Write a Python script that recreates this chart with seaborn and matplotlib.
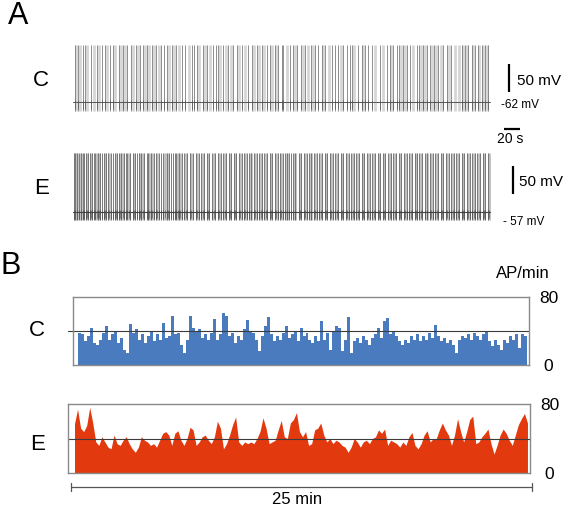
import numpy as np
import pandas as pd
import matplotlib
matplotlib.use("Agg")
import matplotlib.pyplot as plt
import seaborn as sns

sns.set_theme(style="white")
plt.rcParams['font.family'] = ['Liberation Sans', 'DejaVu Sans']
plt.rcParams['text.color'] = 'black'
plt.rcParams['ytick.color'] = 'black'
plt.rcParams['ytick.labelcolor'] = 'black'

# ---------------- data ----------------
# Panel A: spike times (s)
C_dark = [2.5, 6.6, 12.1, 15, 22.1, 29.6, 35.9, 40, 46.3, 49.6, 57.9, 62.9, 67.9, 72.1, 78.8,
          83.8, 87.1, 92.9, 98.4, 103.8, 109.6, 114.1, 117.1, 123.4, 128.8, 135.9, 140, 148.4,
          151.3, 154.6, 162.9, 167.9, 175.4, 178.8, 181.6, 187.9, 194.1, 200.4, 204.6, 210.9,
          219.1, 223.4, 229.6, 235.9, 242.1, 246.3, 252.5, 256.6, 260.9, 262.9, 271.3, 275.4,
          280.4, 284.6, 290, 297.1, 302.5, 306.6, 310.9, 315, 323.4, 327.5, 331.6, 337.9, 342.1,
          346.3, 348.4, 356.6, 360.9, 365, 369.1, 373.4, 383.8, 392.1, 396.3, 400.4, 404.6,
          407.9, 412.9, 417.1, 421.3, 429.6, 432.9, 437.1, 442.1, 446.3, 451.3, 456.6, 462.9,
          467.1, 472.1, 485.9, 490, 494.1, 498.4, 502.5, 506.6, 510.9, 515, 519.1]
C_faint = [4, 9, 18, 26, 33, 43, 53, 60, 65, 75, 81, 90, 95, 101, 107, 120, 126, 132, 145, 158,
           165, 171, 184, 191, 197, 207, 215, 226, 232, 239, 249, 254, 268, 278, 287, 294, 300,
           313, 320, 335, 351, 363, 378, 388, 398, 410, 415, 425, 435, 440, 449, 454, 460, 470,
           477, 482, 488, 492, 500, 508, 513, 517]
E_dark = [1, 3, 4.5, 7, 9.5, 12, 13.5, 16, 19, 21, 24, 26.5, 28, 31, 34, 36, 38.5, 41, 44, 47,
          49.5, 52, 55, 57, 60, 63.5, 66, 68, 71, 74.5, 77, 80, 82, 85.5, 89, 92, 94, 97, 101,
          104, 107.5, 110, 113, 117, 120, 122.5, 125, 127, 129, 132, 136, 139, 143, 146, 150,
          153.5, 157, 160, 164, 167, 170.5, 174, 178, 181, 185, 188, 191, 194.5, 198, 201, 204,
          207.5, 211, 214, 217.5, 220, 223, 226.5, 230, 233, 236, 239, 242.5, 246, 249, 252.5,
          256, 259, 262, 265.5, 268, 270, 272.5, 275, 278, 282, 285, 288.5, 292, 295, 298,
          301.5, 305, 308, 311.5, 315, 318, 321.5, 325, 328, 331, 334.5, 338, 341, 344.5, 348,
          351, 354, 357.5, 361, 364, 367.5, 371, 374, 377.5, 381, 384, 387, 390.5, 394, 397,
          400.5, 404, 407, 410, 413.5, 417, 420, 423.5, 427, 430, 433, 436.5, 440, 443, 446.5,
          450, 453, 456, 459.5, 463, 466, 469.5, 473, 476, 479, 482.5, 486, 489, 492.5, 496,
          499, 502, 505.5, 509, 512, 515.5, 519]
E_faint = [2, 5.5, 10.5, 17.5, 22.5, 29.5, 32.5, 39.5, 45.5, 53.5, 58.5, 62, 69.5, 76, 83.5, 87,
           95.5, 99, 105.5, 115, 118.5, 131, 134, 141, 148, 155, 162, 168.5, 176, 183, 189.5,
           196, 203, 209, 215.5, 222, 228, 234.5, 241, 247.5, 254, 260.5, 267, 277, 283.5, 290,
           297, 303, 310, 316.5, 323, 330, 336, 343, 350, 356, 363, 369, 376, 383, 389, 396, 402,
           409, 415, 422, 429, 435, 442, 448, 455, 461, 468, 475, 481, 488, 494, 501, 507, 514,
           520]
trace_end = 521          # s
C_rest, C_peak, C_trough = -62, 40, -78      # mV
E_rest, E_peak, E_trough = -57, 48, -71      # mV

# Panel B: firing rate (AP/min) in 150 consecutive bins over 25 min
C_rate = [38, 36, 28, 34, 44, 26, 24, 30, 38, 46, 30, 36, 40, 26, 32, 18, 14, 48, 38, 42,
          30, 36, 26, 34, 40, 28, 36, 30, 50, 32, 34, 58, 36, 38, 24, 14, 30, 58, 44, 40,
          42, 32, 36, 30, 38, 54, 30, 36, 61, 58, 34, 38, 26, 34, 30, 42, 53, 40, 38, 30,
          16, 34, 46, 56, 36, 28, 34, 30, 38, 46, 32, 36, 40, 28, 44, 34,
          38, 30, 26, 34, 28, 52, 30, 38, 18, 40, 46, 44, 16, 30, 57, 14, 28, 32, 26, 34,
          30, 24, 32, 36, 44, 32, 52, 55, 36, 40, 34, 28, 24, 30, 26, 34, 30, 36, 28, 34,
          30, 38, 32, 47, 34, 28, 32, 26, 30, 24, 14, 30, 34, 32, 36, 30, 38, 34, 30, 36,
          40, 28, 22, 30, 24, 18, 30, 26, 34, 30, 36, 20, 36, 34]
E_rate = [57, 74, 52, 48, 55, 76, 58, 36, 32, 42, 36, 30, 28, 44, 34, 32, 38, 42, 34, 28,
          24, 30, 42, 38, 36, 32, 34, 30, 38, 46, 48, 44, 32, 46, 49, 38, 32, 40, 53, 50,
          32, 36, 42, 44, 38, 34, 42, 60, 52, 28, 34, 44, 56, 65, 36, 32, 36, 34, 36, 34,
          40, 48, 64, 52, 34, 36, 38, 50, 61, 42, 40, 58, 62, 70, 48, 42,
          48, 32, 34, 50, 52, 58, 44, 36, 40, 34, 38, 36, 32, 30, 24, 30, 40, 36, 30, 36,
          38, 34, 40, 42, 50, 46, 51, 32, 38, 36, 34, 30, 36, 32, 42, 47, 32, 28, 34, 44,
          49, 36, 40, 40, 50, 58, 50, 44, 32, 44, 63, 48, 36, 48, 62, 66, 34, 36, 42, 46,
          51, 34, 22, 32, 44, 51, 46, 38, 32, 44, 56, 63, 69, 58]
total_min = 25
ref_rate = 40
rate_ticks = [0, 80]

# ---------------- figure ----------------
W, H = 564, 507
fig = plt.figure(figsize=(W / 100, H / 100), dpi=100)


def fx(px):
    return px / W


def fy(py):
    return 1 - py / H


def ax_rect(x0, y0, x1, y1):
    return [fx(x0), fy(y1), fx(x1) - fx(x0), fy(y0) - fy(y1)]


# ---------- Panel A ----------
axA = fig.add_axes(ax_rect(60, 30, 560, 235))
axA.set_xlim(-16.25, 608.75)
axA.set_ylim(-299.5, 66.6)
axA.axis('off')
E_off = -201.4   # vertical offset of the E trace on the shared axis

for times, col, lw in [(C_faint, '#d6d6d6', 2.0), (C_dark, '#7c7c7c', 0.6)]:
    axA.vlines(times, C_trough, C_peak, colors=col, linewidth=lw)
axA.vlines(C_dark, C_trough + 3, C_rest + 3, colors='#5a5a5a', linewidth=0.5)
sns.lineplot(x=[0, trace_end], y=[C_rest, C_rest], color='#555555', linewidth=0.7, ax=axA)

for times, col, lw in [(E_faint, '#bdbdbd', 2.0), (E_dark, '#727272', 0.65)]:
    axA.vlines(times, E_trough + E_off, E_peak + E_off, colors=col, linewidth=lw)
axA.vlines(E_dark, E_trough + 2 + E_off, E_rest + 4 + E_off, colors='#505050', linewidth=0.5)
axA.vlines(E_faint, E_trough + 4 + E_off, E_rest + 3 + E_off, colors='#666666', linewidth=0.5)
sns.lineplot(x=[0, trace_end], y=[E_rest + E_off, E_rest + E_off], color='#444444',
             linewidth=0.8, ax=axA)

# scale bars
axA.plot([545, 545], [-44.1, 5.9], color='black', linewidth=1.6, solid_capstyle='butt')
axA.plot([538.75, 558.75], [-110.2, -110.2], color='black', linewidth=1.6, solid_capstyle='butt')
axA.plot([550, 550], [-226.3, -176.3], color='black', linewidth=1.6, solid_capstyle='butt')

fig.text(fx(517), fy(81), '50 mV', fontsize=11, va='center', ha='left')
fig.text(fx(501), fy(105), '-62 mV', fontsize=8.5, va='center', ha='left')
fig.text(fx(510), fy(139), '20 s', fontsize=10, va='center', ha='center')
fig.text(fx(519), fy(182), '50 mV', fontsize=11, va='center', ha='left')
fig.text(fx(503), fy(222), '- 57 mV', fontsize=8.5, va='center', ha='left')

fig.text(fx(18), fy(16), 'A', fontsize=22, va='center', ha='center')
fig.text(fx(41), fy(80), 'C', fontsize=16, va='center', ha='center')
fig.text(fx(42), fy(188), 'E', fontsize=16, va='center', ha='center')

# ---------- Panel B ----------
n = len(C_rate)
bin_w = total_min / n
centers = bin_w * (np.arange(n) + 0.5)
dfB = pd.DataFrame({'min': centers, 'C': C_rate, 'E': E_rate})

axC = fig.add_axes(ax_rect(73, 297, 529, 365))
sns.histplot(data=dfB, x='min', weights='C', bins=n, binrange=(0, total_min),
             element='bars', fill=True, color='#4a7bbf', alpha=1, linewidth=0, ax=axC)
axC.set_xlim(-0.278, 25.11)
axC.plot([-0.557, 25.11], [ref_rate, ref_rate], color='#3c3c3c', linewidth=0.8, clip_on=False)

axE = fig.add_axes(ax_rect(68, 404, 530, 473))
sns.histplot(data=dfB, x='min', weights='E', bins=n, binrange=(0, total_min),
             element='poly', fill=True, color='#e2390e', alpha=1, linewidth=0, ax=axE)
axE.set_xlim(-0.274, 25.055)
axE.plot([-0.274, 25.055], [ref_rate, ref_rate], color='#3c3c3c', linewidth=0.8)

for ax in (axC, axE):
    ax.set_ylim(0, 80)
    ax.set_xlabel('')
    ax.set_ylabel('')
    ax.set_xticks([])
    ax.yaxis.tick_right()
    ax.set_yticks(rate_ticks)
    ax.set_yticklabels([str(v) for v in rate_ticks])
    ax.tick_params(axis='y', length=0, pad=14, labelsize=12.5, labelcolor='black')
    for lab in ax.get_yticklabels():
        lab.set_horizontalalignment('center')
    for s in ax.spines.values():
        s.set_visible(True)
        s.set_color('#8a8a8a')
        s.set_linewidth(1.0)
    ax.set_facecolor('white')

# 25 min scale bar
axE.plot([-0.11, total_min + 0.16], [-16.2, -16.2], color='#555555', linewidth=0.9, clip_on=False)
for xv in (-0.11, total_min + 0.16):
    axE.plot([xv, xv], [-20.8, -11.6], color='#555555', linewidth=0.9, clip_on=False)
fig.text(fx(297), fy(499), '25 min', fontsize=12, va='center', ha='center')
fig.text(fx(523), fy(273), 'AP/min', fontsize=12, va='center', ha='center')

fig.text(fx(11), fy(266), 'B', fontsize=22, va='center', ha='center')
fig.text(fx(36.5), fy(331), 'C', fontsize=16, va='center', ha='center')
fig.text(fx(37.5), fy(445), 'E', fontsize=16, va='center', ha='center')

fig.savefig('out.png', dpi=100, facecolor='white')
